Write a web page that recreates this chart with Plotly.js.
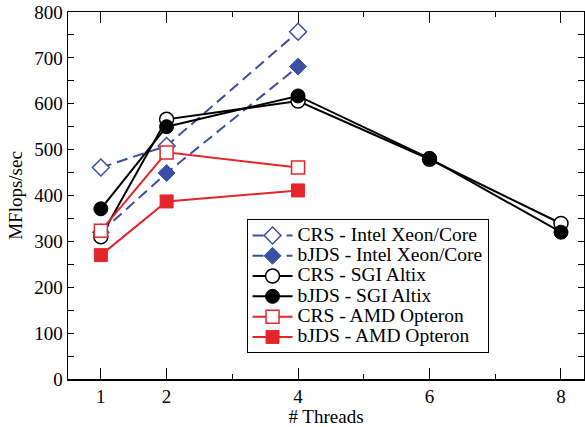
<!DOCTYPE html>
<html>
<head>
<meta charset="utf-8">
<script src="https://cdn.plot.ly/plotly-3.0.1.min.js"></script>
<style>html,body{margin:0;padding:0;background:#fff;}#chart{width:585px;height:427px;}</style>
</head>
<body>
<div id="chart"></div>
<script>
// Data
const threadsIntel = [1, 2, 4];
const threadsSGI = [1, 2, 4, 6, 8];
const threadsAMD = [1, 2, 4];

const crsIntel = [461, 508, 757];
const bjdsIntel = [320, 449, 681];
const crsSGI = [310, 566, 606, 479, 339];
const bjdsSGI = [371, 550, 617, 481, 320];
const crsAMD = [323, 494, 461];
const bjdsAMD = [270, 387, 411];

const seriesNames = [
  "CRS - Intel Xeon/Core",
  "bJDS - Intel Xeon/Core",
  "CRS - SGI Altix",
  "bJDS - SGI Altix",
  "CRS - AMD Opteron",
  "bJDS - AMD Opteron"
];

const xTickVals = [1, 2, 4, 6, 8];
const xTickText = ["1", "2", "4", "6", "8"];
const yTickVals = [0, 100, 200, 300, 400, 500, 600, 700, 800];

const blue = "#3a4fa3";
const red = "#e3262b";
const black = "#000000";
const serif = "Liberation Serif, Times New Roman, serif";

function legendName(s) {
  return '<span style="font-size:19.5px">' + s + '</span>';
}

const dashPattern = "11px,6px";

const traces = [
  {x: threadsIntel, y: crsIntel, name: legendName(seriesNames[0]), mode: "lines+markers",
   line: {color: blue, width: 2, dash: dashPattern},
   marker: {symbol: "diamond", size: 13, color: "white", line: {color: blue, width: 1.5}}},
  {x: threadsIntel, y: bjdsIntel, name: legendName(seriesNames[1]), mode: "lines+markers",
   line: {color: blue, width: 2, dash: dashPattern},
   marker: {symbol: "diamond", size: 13, color: blue, line: {color: blue, width: 1}}},
  {x: threadsSGI, y: crsSGI, name: legendName(seriesNames[2]), mode: "lines+markers",
   line: {color: black, width: 2},
   marker: {symbol: "circle", size: 14, color: "white", line: {color: black, width: 1.5}}},
  {x: threadsSGI, y: bjdsSGI, name: legendName(seriesNames[3]), mode: "lines+markers",
   line: {color: black, width: 2},
   marker: {symbol: "circle", size: 14, color: black, line: {color: black, width: 1}}},
  {x: threadsAMD, y: crsAMD, name: legendName(seriesNames[4]), mode: "lines+markers",
   line: {color: red, width: 2},
   marker: {symbol: "square", size: 13, color: "white", line: {color: red, width: 1.5}}},
  {x: threadsAMD, y: bjdsAMD, name: legendName(seriesNames[5]), mode: "lines+markers",
   line: {color: red, width: 2},
   marker: {symbol: "square", size: 13, color: red, line: {color: red, width: 1}}}
];

const layout = {
  width: 585, height: 427,
  margin: {l: 68, r: 1, t: 12, b: 48},
  paper_bgcolor: "white", plot_bgcolor: "white",
  font: {family: serif, size: 18, color: "#000"},
  showlegend: true,
  legend: {
    x: 0.346, y: 0.435, xanchor: "left", yanchor: "top",
    bgcolor: "white", bordercolor: "#000", borderwidth: 1,
    font: {family: serif, size: 13.3, color: "#000"},
    itemwidth: 40,
    tracegroupgap: 0
  },
  xaxis: {
    range: [0.5, 8.35],
    tickvals: xTickVals, ticktext: xTickText,
    ticks: "inside", ticklen: 11, tickwidth: 1, tickcolor: "#000",
    minor: {tickvals: [3, 5, 7], ticks: "inside", ticklen: 5, tickwidth: 1, tickcolor: "#000"},
    showline: true, linecolor: "#000", linewidth: 1.5, mirror: "ticks",
    showgrid: false, zeroline: false,
    tickfont: {family: serif, size: 19},
    title: {text: "# Threads", font: {family: serif, size: 19}, standoff: 6}
  },
  yaxis: {
    range: [0, 800],
    tickvals: yTickVals,
    ticks: "inside", ticklen: 6, tickwidth: 1, tickcolor: "#000",
    minor: {dtick: 50, ticks: "inside", ticklen: 6, tickwidth: 1, tickcolor: "#000"},
    showline: true, linecolor: "#000", linewidth: 1.5, mirror: "ticks",
    showgrid: false, zeroline: false,
    tickfont: {family: serif, size: 19},
    title: {text: "MFlops/sec", font: {family: serif, size: 19}, standoff: 6}
  }
};

Plotly.newPlot("chart", traces, layout, {displayModeBar: false, staticPlot: true});
</script>
</body>
</html>
